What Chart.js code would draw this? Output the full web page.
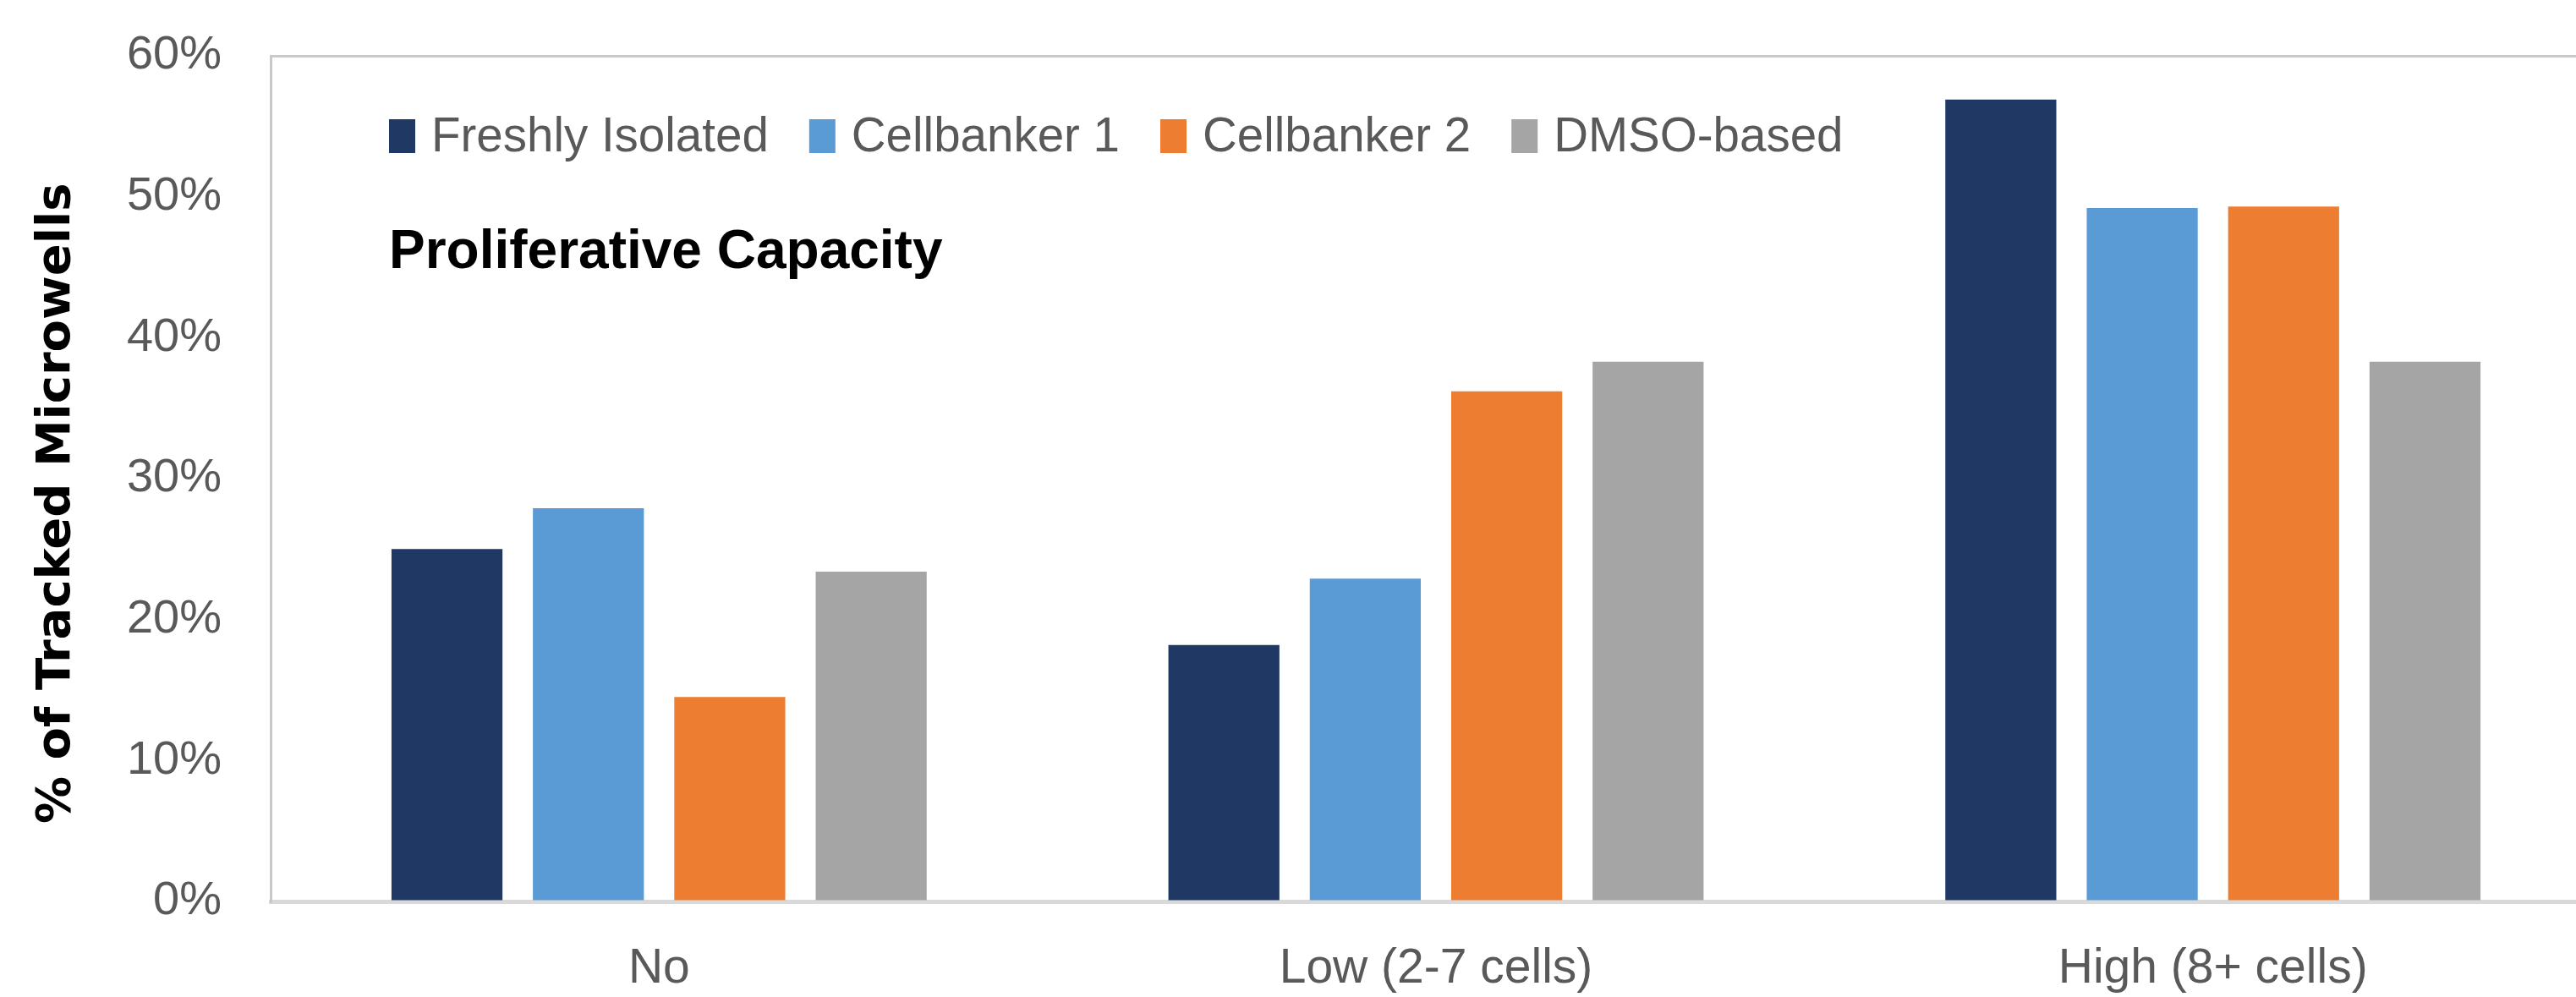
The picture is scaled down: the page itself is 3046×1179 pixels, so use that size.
<!DOCTYPE html>
<html>
<head>
<meta charset="utf-8">
<script src="https://cdn.jsdelivr.net/npm/chart.js@4/dist/chart.umd.min.js"></script>
<style>
  html, body { margin: 0; padding: 0; background: #fff; overflow: hidden; }
  canvas { display: block; }
</style>
</head>
<body>
<canvas id="chart" width="3100" height="1179"></canvas>
<script>
const categories = ['No', 'Low (2-7 cells)', 'High (8+ cells)'];
const seriesNames = ['Freshly Isolated', 'Cellbanker 1', 'Cellbanker 2', 'DMSO-based'];
const freshlyIsolated = [25.0, 18.2, 56.9];
const cellbanker1 = [27.9, 22.9, 49.2];
const cellbanker2 = [14.5, 36.2, 49.3];
const dmsoBased = [23.4, 38.3, 38.3];
const yTicks = [0, 10, 20, 30, 40, 50, 60];

const colors = ['#203864', '#5b9bd5', '#ed7d31', '#a5a5a5'];
const seriesValues = [freshlyIsolated, cellbanker1, cellbanker2, dmsoBased];
const sans = "'Liberation Sans', Arial, sans-serif";

// legend + panel title drawn inside the plot area, like the Excel original
const insideLegend = {
  id: 'insideLegend',
  afterDraw(chart) {
    const ctx = chart.ctx;
    ctx.save();
    ctx.font = '56.5px ' + sans;
    ctx.textBaseline = 'middle';
    let x = 460;
    const y = 161;
    chart.data.datasets.forEach(ds => {
      ctx.fillStyle = ds.backgroundColor;
      ctx.fillRect(x, y - 20, 31, 40);
      x += 50;
      ctx.fillStyle = '#595959';
      ctx.textAlign = 'left';
      ctx.fillText(ds.label, x, y + 2);
      x += ctx.measureText(ds.label).width + 48;
    });
    ctx.font = 'bold 64px ' + sans;
    ctx.fillStyle = '#000';
    ctx.fillText('Proliferative Capacity', 460, 299);
    ctx.restore();
  }
};

new Chart(document.getElementById('chart'), {
  type: 'bar',
  data: {
    labels: categories,
    datasets: seriesNames.map((name, i) => ({
      label: name,
      data: seriesValues[i],
      backgroundColor: colors[i],
      borderWidth: 0,
      categoryPercentage: 0.728,
      barPercentage: 0.785
    }))
  },
  options: {
    responsive: false,
    animation: false,
    layout: { padding: { top: 66, right: 24, left: 0, bottom: 0 } },
    plugins: {
      legend: { display: false },
      tooltip: { enabled: false }
    },
    scales: {
      x: {
        grid: { display: false, drawTicks: false },
        border: { color: '#d9d9d9', width: 5 },
        ticks: {
          color: '#595959',
          font: { family: sans, size: 57 },
          padding: 46
        },
        afterFit(scale) { scale.height = 113; }
      },
      y: {
        min: 0,
        max: 60,
        afterBuildTicks(scale) { scale.ticks = yTicks.map(v => ({ value: v })); },
        grid: {
          drawTicks: false,
          color: c => (c.tick && c.tick.value === 60 ? '#c9c9c9' : 'rgba(0,0,0,0)'),
          lineWidth: 3
        },
        border: { color: '#c9c9c9', width: 3 },
        ticks: {
          color: '#595959',
          font: { family: sans, size: 56 },
          padding: 58,
          callback: v => v + '%'
        },
        title: {
          display: true,
          // trailing spaces nudge the rotated title a bit lower, as in the original
          text: '% of Tracked Microwells   ',
          color: '#000',
          font: { family: "'DejaVu Sans', sans-serif", size: 56, weight: 'bold' },
          padding: { top: 34, bottom: 0 }
        },
        afterFit(scale) {
          scale.width = 320;
          scale.paddingTop = 0;
          scale.paddingBottom = 0;
        }
      }
    }
  },
  plugins: [insideLegend]
});
</script>
</body>
</html>
